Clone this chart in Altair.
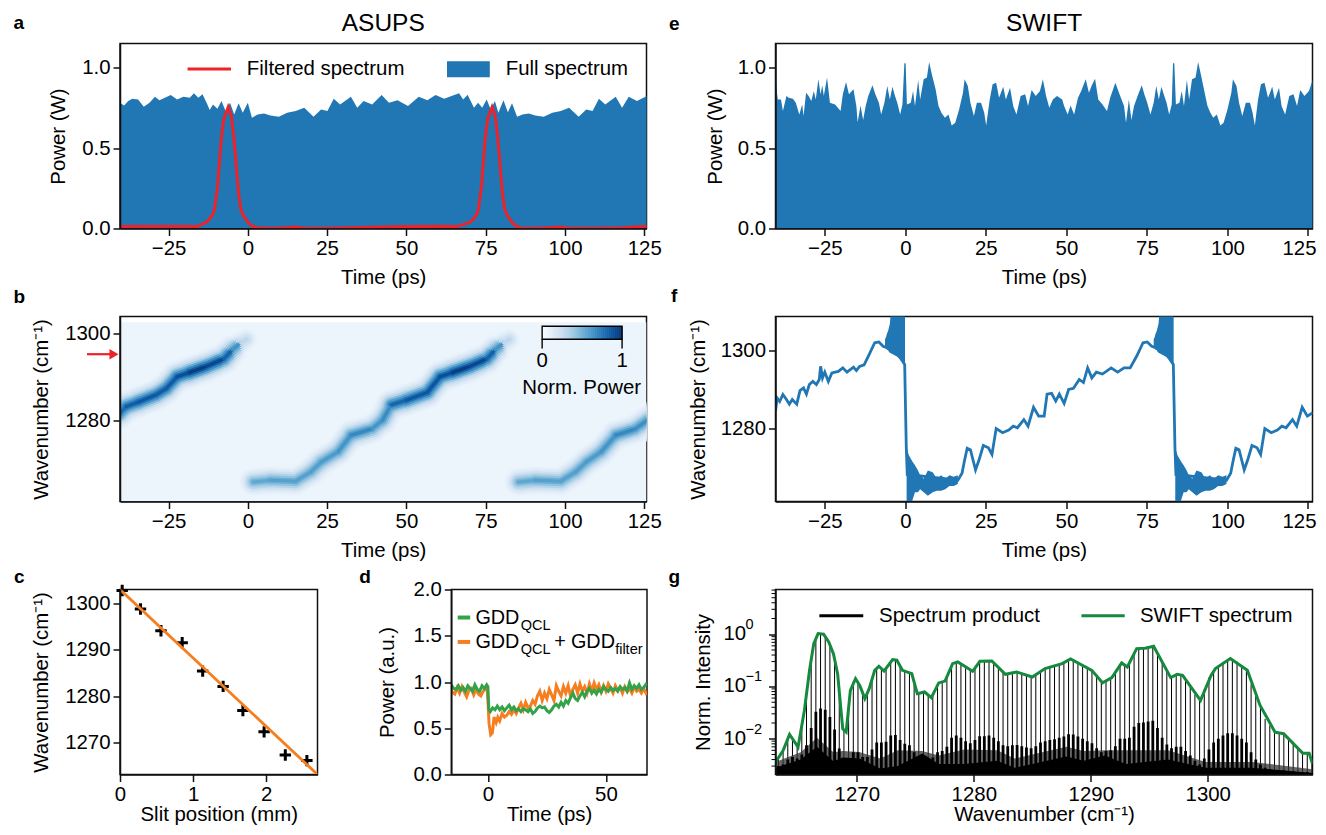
import altair as alt
import pandas as pd

FONT = "Liberation Sans"
BLUE = "#2077b4"
RED = "#ee2229"
ORANGE = "#f57f20"
GREEN = "#33a249"
DGREEN = "#15893e"

# ---- panel a
a_t = [-40.4,-39.0,-37.7,-36.4,-34.6,-32.8,-31.0,-29.3,-27.9,-26.3,-24.3,-22.3,-20.3,-18.3,-17.0,-15.6,-14.3,-13.0,-12.0,-11.0,-9.6,-8.3,-7.0,-5.6,-4.3,-2.9,-1.6,0,1.3,3.1,5.1,7.1,9.8,12.4,15.1,17.8,20.7,23.1,25.1,27.1,29.1,32.5,34.5,36.5,39.2,42.2,44.5,47.2,50.5,53.9,56.6,59.2,61.9,66.6,67.9,69.3,71.3,72.6,73.9,75.3,76.6,77.9,79.0,80.6,82.0,83.3,84.9,86.6,88.6,90.6,93.3,96.0,98.7,101.3,104.3,106.7,108.7,110.7,112.7,116.0,118.0,120.1,122.7,124.1,126.5]
a_p = [.782,.765,.792,.807,.802,.757,.782,.819,.798,.811,.83,.802,.819,.813,.84,.813,.834,.782,.736,.771,.744,.792,.73,.782,.709,.778,.719,.782,.688,.709,.715,.703,.694,.719,.73,.751,.694,.74,.73,.807,.771,.819,.751,.792,.771,.83,.782,.798,.761,.819,.798,.83,.807,.84,.802,.832,.751,.782,.751,.802,.74,.792,.719,.798,.723,.778,.694,.709,.715,.703,.694,.719,.73,.751,.694,.74,.73,.807,.771,.819,.751,.819,.792,.807,.83]
red_t = [-40.4,-25,-20,-16,-13,-12,-11,-10.5,-9.6,-9,-8.4,-7.6,-6.2,-5.2,-4.5,-3.9,-3.3,-2.8,-2.2,-1.4,0,1,3,8,12,15,18,25,35,50,60,66,70.2,71.2,72.2,72.7,73.6,74.2,74.8,75.6,77,78,78.7,79.3,79.9,80.4,81,81.8,83.2,84.2,86,91,95,98.5,101,110,118,125,126.2]
red_p = [.012,.014,.014,.012,.04,.06,.09,.12,.25,.4,.55,.68,.755,.7,.58,.45,.3,.2,.12,.08,.04,.02,.003,.001,.005,.009,.002,.001,.006,.012,.014,.012,.04,.06,.09,.12,.25,.4,.55,.68,.755,.7,.58,.45,.3,.2,.12,.08,.04,.02,.003,.001,.005,.01,.002,.001,.004,.012,.013]

# ---- panel e
e_t = [-40.3,-39.6,-38.6,-38.0,-36.9,-36.2,-34.9,-34.0,-32.9,-32.0,-31.6,-30.8,-30.0,-29.2,-28.4,-27.8,-27.0,-26.3,-25.8,-25.3,-24.3,-23.4,-21.8,-20.1,-19.4,-18.4,-17.5,-16.1,-15.2,-14.8,-13.9,-13.1,-12.3,-11.5,-10.2,-9.3,-8.2,-7.5,-6.5,-5.6,-4.8,-4.0,-3.2,-2.5,-1.6,-0.9,-0.3,0.1,0.5,1.7,2.4,3.0,4.0,4.6,5.7,6.7,7.4,8.3,9.4,10.3,11.2,12.3,13.4,14.4,15.5,16.7,17.9,18.4,19.4,20.2,21.3,22.2,23.5,24.5,25.1,26.2,27.1,28.2,29.1,30.4,31.2,32.5,33.5,34.5,35.8,37.2,38.1,39.2,40.5,41.8,42.7,43.7,44.7,45.8,47.1,48.7,49.3,50.4,51.3,52.4,53.6,54.6,56.0,57.0,57.9,58.9,59.9,61.2,62.6,63.6,65.2,66.5,67.9,68.5,69.4,70.2,71.0,72.1,73.4,74.2,75.1,76.1,77.1,77.9,78.7,79.5,80.4,81.1,81.9,82.7,83.1,83.5,84.0,85.1,85.8,86.5,87.4,88.1,89.0,90.1,90.9,91.8,92.7,93.8,94.7,95.6,96.7,97.8,98.8,100.0,101.2,101.7,102.8,103.6,104.6,105.7,107.0,107.8,108.5,109.5,110.4,111.5,112.6,113.9,114.7,116.0,116.8,117.9,119.2,120.5,121.6,122.6,123.9,125.3,126.5]
e_p = [.927,.802,.802,.73,.823,.813,.807,.782,.709,.771,.699,.844,.823,.792,.854,.802,.927,.834,.89,.823,.938,.782,.771,.73,.834,.911,.834,.865,.761,.661,.765,.674,.761,.823,.89,.834,.782,.709,.782,.886,.802,.881,.823,.782,.709,.771,1.027,1.027,.771,.782,.854,.761,.923,.802,.927,.938,1.035,.952,.865,.761,.719,.688,.709,.64,.657,.74,.844,.927,.886,.782,.699,.782,.782,.719,.64,.802,.896,.906,.813,.881,.802,.875,.761,.709,.823,.834,.761,.861,.823,.854,.927,.823,.751,.802,.823,.802,.761,.709,.765,.709,.813,.854,.927,.844,.89,.931,.802,.771,.73,.813,.906,.834,.761,.657,.802,.674,.761,.823,.89,.834,.782,.709,.782,.886,.802,.881,.823,.782,.709,.771,1.027,1.027,.771,.782,.854,.761,.923,.802,.927,.938,1.035,.952,.865,.761,.719,.688,.709,.64,.657,.74,.844,.927,.886,.782,.699,.782,.782,.719,.64,.802,.896,.906,.813,.881,.802,.875,.761,.709,.823,.834,.761,.861,.823,.854,.927]

# ---- panel b: ridge tracks (time, wavenumber, relative power)
r1_t = [-40.4,-38.4,-34.4,-29,-25.7,-22.3,-18.3,-13,-7.6,-4.9,-2.3,-0.5]
r1_w = [1281.5,1283.1,1284.2,1285.8,1287.3,1290,1291,1292.4,1294.1,1296.2,1297.8,1298.6]
r1_a = [.72,.8,.85,.85,.82,.86,.9,1,.82,.8,.45,.1]
r2_t = [1.7,7.1,15.1,19.8,23.1,28.5,32.5,39.2,42.5,45.2,50,56.6,60.6,64.6,70,75.3,78,80.6,82.4]
r2_w = [1265.7,1266.1,1265.9,1268,1270.3,1272.7,1276.5,1278,1280,1283.5,1284.6,1286.4,1290,1291,1292.4,1294.1,1296.2,1297.8,1298.6]
r2_a = [.52,.55,.58,.55,.6,.58,.65,.68,.55,.75,.85,.85,.86,.9,1,.82,.8,.45,.1]
r3_t = [85.3,90.6,98.7,103.3,106.7,111.4,116,122,126.5]
r3_w = [1265.7,1266.1,1265.9,1268,1270.3,1272.7,1276.5,1277.9,1280.2]
r3_a = [.52,.55,.58,.55,.6,.58,.65,.68,.6]
bar_v = [i / 40 for i in range(41)]

# ---- panel f
f_t = [-40.3,-39.8,-39.0,-38.0,-36.9,-36.0,-35.1,-33.7,-32.7,-31.6,-30.7,-29.8,-28.7,-27.6,-26.7,-26.3,-25.7,-25.0,-23.9,-22.8,-20.8,-19.4,-18.1,-16.1,-15.2,-14.2,-12.8,-11.5,-9.5,-8.2,-6.9,-3,-0.2,0.3,0.6,16.3,17.6,18.3,19.2,20.2,21.8,22.9,24.2,25.8,26.9,28.2,30.2,32.1,33.5,34.8,36.8,38.1,39.8,41.4,43.1,44,45.4,46.7,47.8,49.3,50.7,52.2,54,55.3,56.6,57.9,59.3,61.2,63.9,65.9,67.9,69.8,71.8,73.8,75.1,76.5,80.4,83.2,83.7,84.0,99.7,101.0,101.7,102.6,103.6,105.2,106.3,107.6,109.2,110.3,111.6,113.6,115.5,116.9,118.2,120.2,121.5,123.2,124.8,126.5]
f_w = [1284.3,1287.8,1286.9,1288.7,1287.4,1286.2,1287.4,1286.2,1289.7,1290.4,1288.8,1291.3,1292.1,1291.3,1292.6,1296,1293,1294.5,1292.1,1294.3,1294.7,1295.6,1294.5,1295.8,1294.9,1296,1296.4,1298.6,1302.1,1302.3,1301.2,1300,1296.5,1275,1268,1266.5,1268.3,1271.3,1274.8,1274.4,1269.2,1271.8,1275.5,1274.9,1273.2,1279.9,1278.8,1279.5,1280.5,1280.1,1282.2,1280.5,1285.4,1283.1,1283.1,1288.8,1289,1287,1288.8,1286.4,1290,1290.3,1292.6,1291.8,1295.6,1293,1294.5,1294,1295.6,1294.5,1295.6,1295.6,1298.6,1302.1,1302.3,1301.2,1300,1296.5,1275,1268,1266.5,1268.3,1271.3,1274.8,1274.4,1269.2,1271.8,1275.5,1274.9,1273.2,1279.9,1278.8,1279.5,1280.5,1280.1,1282.2,1280.5,1285.4,1283.1,1284]
# rapid-oscillation envelopes of panel f
band_t = [-6.3,-6.0,-5.7,-5.4,-5.1,-4.8,-4.5,-3.6,-2.5,-1.2,-0.1,0.4,1.1,1.7,2.3,3.0,3.9,4.6,5.7,7.0,8.5,9.8,11.1,12.4,13.7,15,16.3]
band_up = [1303,1303.5,1304.5,1305,1306,1307,1310,1310,1310,1310,1310,1274.8,1273,1272.1,1271.2,1270.4,1269.1,1267.8,1266.9,1269,1268.6,1266.9,1267.8,1266.9,1267.8,1267.4,1267.8]
band_lo = [1301,1300.6,1300.3,1300.2,1299.8,1299.5,1299.4,1299,1298.5,1297.5,1296.5,1260,1260,1260,1261.6,1263.4,1263.4,1264.2,1263.4,1262.5,1263.4,1263.8,1263.8,1264.2,1265,1265,1265.5]
band_group = [0]*11 + [1]*16
band2_t = [77.1,77.4,77.7,78.0,78.3,78.6,78.9,79.8,80.9,82.2,83.3,83.8,84.5,85.1,85.7,86.4,87.3,88.0,89.1,90.4,91.9,93.2,94.5,95.8,97.1,98.4,99.7]

# ---- panel c
c_x = [.03,.28,.56,.85,1.13,1.41,1.68,1.97,2.26,2.555]
c_y = [1302.8,1298.8,1294.1,1291.5,1285.4,1282.1,1276.9,1272.3,1267.3,1266.1]
fit_x = [0,2.7]
fit_y = [1303,1263.1]

# ---- panel d
g_t = [-15.5,-14.5,-13.5,-12.5,-11.5,-10.5,-9.5,-8.5,-7.5,-6.5,-5.5,-4.5,-3.5,-2.5,-1.5,-.5,0,.4,1,2,3,4,5,6,7,8,9,10,11,12,13,14,15,16,17,18,19,20,21,22,23,24,25,26,27,28,29,30,31,32,33,34,35,36,37,38,39,40,41,42,43,44,45,46,47,48,49,50,51,52,53,54,55,56,57,58,59,60,61,62,63,64,65,66,67.4]
g_p = [.97,.93,.92,.96,.91,.94,.90,.96,.93,.90,.97,.92,.90,.96,.93,.97,.95,.70,.68,.72,.70,.74,.70,.73,.69,.72,.75,.70,.73,.69,.71,.68,.71,.70,.68,.71,.66,.68,.72,.74,.72,.73,.69,.67,.70,.74,.76,.73,.78,.74,.80,.77,.83,.88,.82,.80,.85,.89,.84,.90,.93,.88,.91,.87,.92,.89,.95,.92,.90,.94,.91,.93,.90,.95,.92,.94,.90,.99,.92,.96,.93,.97,.92,.94,.99]
o_t = [-15.5,-14,-13,-12,-11,-10,-9,-8,-7,-6,-5,-4,-3,-2,-1,-.3,.1,.5,1.2,1.9,2.6,3.5,4.2,5,6,7,8,9,10,11,12,13,14,15,16,17,18,19,20,21,22,23,24,25,26,27,28,29,30,31,32,33,34,35,36,37,38,39,40,41,42,43,44,45,46,47,48,49,50,51,52,53,54,55,56,57,58,59,60,61,62,63,64,65,66,67.4]
o_p = [.90,.87,.94,.88,.95,.89,.84,.91,.93,.86,.92,.87,.85,.90,.93,.92,.75,.55,.43,.45,.62,.56,.62,.58,.66,.62,.64,.68,.65,.70,.66,.72,.77,.70,.78,.72,.74,.80,.76,.85,.90,.80,.88,.82,.92,.86,.80,.96,.90,.85,.95,.88,.96,.85,.92,.97,.88,.98,.90,.95,.88,.98,.90,.99,.92,.97,.89,.96,.90,.98,.93,.88,.96,.91,.94,.88,.95,.90,.93,.88,.95,.90,.92,.88,.93,.86]

# ---- panel g
s_w = [1263.05,1263.7,1264.25,1264.98,1265.52,1265.96,1266.32,1266.69,1267.16,1267.6,1268.0,1268.36,1268.62,1268.8,1269.09,1269.45,1269.89,1270.25,1270.69,1271.06,1271.53,1271.89,1272.33,1273.06,1273.42,1273.9,1274.7,1275.17,1275.79,1276.37,1277.0,1277.54,1278.19,1278.63,1279.9,1280.52,1281.54,1282.7,1283.65,1285.0,1286.09,1287.55,1288.27,1290.09,1291.0,1291.8,1292.64,1293.12,1293.92,1294.64,1295.37,1296.83,1297.38,1297.85,1299.38,1300.29,1300.65,1301.93,1303.38,1304.47,1305.75,1306.48,1308.11,1308.66,1308.95]
s_i = [.00357,.00597,.0121,.00692,.0349,.204,.662,1.03,1.0,.713,.426,.176,.0405,.0155,.0134,.0845,.141,.105,.0585,.0908,.204,.244,.198,.327,.318,.204,.176,.0729,.0785,.0611,.117,.127,.274,.295,.195,.303,.308,.171,.19,.152,.22,.274,.337,.204,.118,.148,.282,.237,.531,.539,.589,.148,.171,.164,.0543,.164,.22,.342,.204,.0435,.0134,.0125,.0053,.0053,.00332]
comb_top = [.0042,.006,.0105,.0095,.0072,.018,.09,.35,.85,1.0,.95,.65,.36,.1,.0145,.05,.125,.12,.075,.073,.15,.23,.22,.23,.31,.325,.24,.195,.18,.11,.074,.078,.066,.07,.11,.122,.16,.26,.29,.26,.225,.2,.235,.3,.305,.308,.28,.225,.185,.172,.182,.19,.175,.16,.153,.175,.205,.22,.235,.25,.265,.285,.325,.32,.285,.255,.225,.204,.155,.122,.13,.145,.18,.26,.26,.28,.45,.53,.535,.56,.585,.42,.28,.19,.15,.168,.166,.13,.1,.07,.056,.09,.15,.205,.25,.295,.335,.335,.3,.25,.21,.11,.065,.042,.024,.018,.0135,.0132,.0125,.0105,.0085,.0065,.0053,.0053,.0035]
comb_prod = [.0030,.0032,.0040,.0045,.0042,.0050,.0075,.016,.033,.038,.036,.026,.015,.0065,.0038,.0042,.0055,.0055,.0045,.0045,.0062,.0085,.0085,.0088,.0115,.0118,.0095,.0080,.0075,.0055,.0042,.0045,.0042,.0044,.0055,.0058,.0070,.0105,.0115,.0105,.0090,.0082,.0095,.0112,.0112,.0115,.0105,.0090,.0075,.0072,.0075,.0076,.0072,.0068,.0066,.0072,.0085,.0090,.0095,.0098,.0105,.0110,.0122,.0120,.0110,.0100,.0090,.0082,.0066,.0055,.0058,.0060,.0072,.0100,.0100,.0105,.0170,.0200,.0205,.0215,.0220,.0160,.0105,.0078,.0066,.0070,.0070,.0058,.0048,.0038,.0032,.0042,.0062,.0085,.0100,.0115,.0128,.0128,.0115,.0100,.0085,.0055,.0040,.0032,.0028,.0026,.0025,.0025,.0025,.0024,.0024,.0023,.0023,.0023,.0022]
comb_w = [round(1263.3 + 0.4 * i, 1) for i in range(len(comb_top))]
floor_w = [1263.05,1265.2,1266.6,1268.0,1268.8,1270.2,1272.0,1273.5,1275.6,1277.0,1279.2,1282.0,1283.5,1285.0,1287.9,1289.4,1291.2,1293.0,1296.6,1299.8,1303.8,1308.95]
floor_i = [.0028,.0040,.0070,.0037,.0044,.0042,.0027,.0030,.0052,.0033,.0033,.0038,.0028,.0033,.0046,.0038,.0048,.0033,.0040,.0028,.0028,.0022]
gray_i = [.0036,.0055,.0105,.0055,.0058,.0056,.0042,.0060,.0058,.0048,.0062,.0060,.0042,.0050,.0070,.0058,.0060,.0060,.0060,.0036,.0036,.0026]
G_BASE = 0.00207
minor_ticks = [.003,.004,.005,.006,.007,.008,.009,.02,.03,.04,.05,.06,.07,.08,.09,.2,.3,.4,.5,.6,.7,.8,.9,2,3,4,5,6,7]
decade_v = [.01, .1, 1]
decade_sup = ["−2", "−1", "0"]

TIME_TICKS = [-25, 0, 25, 50, 75, 100, 125]
TDOM_L = [-40.3, 125.7]
TDOM_R = [-40.3, 126.4]
W_L, W_R, H = 526.5, 537, 185


def make_axis(ticks, title, fmt="d", **kw):
    return alt.Axis(values=ticks, title=title, format=fmt, zindex=1, labelOverlap=False, **kw)


def xenc(dom, ticks, title, fmt="d", tp=9, **kw):
    def enc(field):
        return alt.X(field, type="quantitative", scale=alt.Scale(domain=dom, nice=False, zero=False),
                     axis=make_axis(ticks, title, fmt, titlePadding=tp, **kw))
    return enc


def yenc(dom, ticks, title, fmt="d", tp=13):
    def enc(field):
        return alt.Y(field, type="quantitative", scale=alt.Scale(domain=dom, nice=False, zero=False),
                     axis=make_axis(ticks, title, fmt, titlePadding=tp), stack=None)
    return enc


def letter(ch, dx, dy):
    return alt.Chart(pd.DataFrame({"s": [ch]})).mark_text(
        font=FONT, fontSize=19, fontWeight="bold", align="left", baseline="middle", clip=False
    ).encode(x=alt.value(dx), y=alt.value(dy), text="s:N")


def heading(s, w):
    return alt.Chart(pd.DataFrame({"s": [s]})).mark_text(
        font=FONT, fontSize=24.5, align="center", baseline="middle"
    ).encode(x=alt.value(w / 2), y=alt.value(-20), text="s:N")


def label(xs, ys, texts, X, Y, size=20.4, align="left"):
    df = pd.DataFrame({"x": xs, "y": ys, "s": texts})
    return alt.Chart(df).mark_text(font=FONT, fontSize=size, align=align, baseline="middle").encode(
        x=X("x"), y=Y("y"), text="s:N"
    )


# ---------- a
PDOM = [0, 1.15]
Xa = xenc(TDOM_L, TIME_TICKS, "Time (ps)")
Ya = yenc(PDOM, [0, .5, 1], "Power (W)", ".1f")
a_df = pd.DataFrame({"t": a_t, "p": a_p})
red_df = pd.DataFrame({"t": red_t, "p": red_p})
panel_a = alt.layer(
    alt.Chart(a_df).mark_area(color=BLUE, clip=True).encode(x=Xa("t"), y=Ya("p")),
    alt.Chart(red_df).mark_line(color=RED, strokeWidth=3, clip=True).encode(x=Xa("t"), y=Ya("p")),
    alt.Chart(pd.DataFrame({"x": [-19], "x2": [-5.3], "y": [.992]})).mark_rule(color=RED, strokeWidth=3).encode(
        x=Xa("x"), x2="x2:Q", y=Ya("y")),
    alt.Chart(pd.DataFrame({"x": [62.8], "x2": [76.3], "y": [.94], "y2": [1.04]})).mark_rect(color=BLUE).encode(
        x=Xa("x"), x2="x2:Q", y=Ya("y"), y2="y2:Q"),
    label([-0.3, 81.3], [.99, .99], ["Filtered spectrum", "Full spectrum"], Xa, Ya),
    letter("a", -106.5, -21),
    heading("ASUPS", W_L),
).properties(width=W_L, height=H)

# ---------- e
# the last tick label is nudged inwards so that it stays on the page
Xe = xenc(TDOM_R, TIME_TICKS, "Time (ps)",
          labelOffset={"condition": {"test": "datum.value == 125", "value": -9}, "value": 0})
Ye = yenc(PDOM, [0, .5, 1], "Power (W)", ".1f", tp=11.5)
e_df = pd.DataFrame({"t": e_t, "p": e_p})
panel_e = alt.layer(
    alt.Chart(e_df).mark_area(color=BLUE, clip=True).encode(x=Xe("t"), y=Ye("p")),
    letter("e", -106.5, -20),
    heading("SWIFT", W_R),
).properties(width=W_R, height=H)

# ---------- b
WDOM_B = [1261.2, 1303.9]
Xb = Xa
Yb = yenc(WDOM_B, [1280, 1300], "Wavenumber (cm⁻¹)")
blues = alt.Scale(domain=[0, .125, .25, .375, .5, .625, .75, .875, 1],
                  range=["#f7fbff", "#deebf7", "#c6dbef", "#9ecae1", "#6baed6", "#4292c6", "#2171b5", "#08519c", "#08306b"])
segs = []
for rt, rw, ra in [(r1_t, r1_w, r1_a), (r2_t, r2_w, r2_a), (r3_t, r3_w, r3_a)]:
    for i in range(len(rt) - 1):
        segs.append({"t": rt[i], "t2": rt[i + 1], "w": rw[i], "w2": rw[i + 1], "a": (ra[i] + ra[i + 1]) / 2})
seg_df = pd.DataFrame(segs)
bg_df = pd.DataFrame({"t": [-40.3], "t2": [125.7], "w": [1261.2], "w2": [1302.6], "v": [0.05]})
ridge_layers = []
for width, strength in [(34, .07), (30, .11), (26, .17), (22, .25), (18, .38), (14, .55), (10, .72), (6, .88), (3, 1.0)]:
    ridge_layers.append(
        alt.Chart(seg_df).transform_calculate(v=f"max(0.05, datum.a * {strength})").mark_rule(
            strokeWidth=width, strokeCap="round", clip=True
        ).encode(
            x=Xb("t"), x2="t2:Q", y=Yb("w"), y2="w2:Q",
            color=alt.Color("v:Q", scale=blues, legend=None),
        )
    )
# colour bar drawn as a row of cells, in the panel's own data coordinates
BAR_L, BAR_R = 92.8, 118.0
bar_df = pd.DataFrame({"v": bar_v})
bar_df["t"] = BAR_L + (BAR_R - BAR_L) * bar_df["v"]
bar_df["t2"] = bar_df["t"] + (BAR_R - BAR_L) / 40 + 0.1
bar_df = bar_df[bar_df["v"] < 1]
BAR_TOP, BAR_BOT = 1301.66, 1298.66
panel_b = alt.layer(
    alt.Chart(bg_df).mark_rect(clip=True).encode(
        x=Xb("t"), x2="t2:Q", y=Yb("w"), y2="w2:Q",
        color=alt.Color("v:Q", scale=blues, legend=None),
    ),
    *ridge_layers,
    alt.Chart(pd.DataFrame({"x": [-50.7], "x2": [-43], "y": [1295.2]})).mark_rule(color=RED, strokeWidth=2.2).encode(
        x=Xb("x"), x2="x2:Q", y=Yb("y")),
    alt.Chart(pd.DataFrame({"x": [-42.2], "y": [1295.2]})).mark_point(
        shape="triangle-right", filled=True, color=RED, size=110, opacity=1).encode(x=Xb("x"), y=Yb("y")),
    alt.Chart(bar_df).transform_calculate(a=f"{BAR_TOP}", b=f"{BAR_BOT}").mark_rect().encode(
        x=Xb("t"), x2="t2:Q", y=Yb("a"), y2="b:Q",
        color=alt.Color("v:Q", scale=blues, legend=None)),
    alt.Chart(pd.DataFrame({"x": [BAR_L], "x2": [BAR_R], "y": [BAR_BOT], "y2": [BAR_TOP]})).mark_rect(
        fillOpacity=0, stroke="black", strokeWidth=1.4).encode(x=Xb("x"), x2="x2:Q", y=Yb("y"), y2="y2:Q"),
    alt.Chart(pd.DataFrame({"x": [BAR_L, BAR_R], "y": [BAR_BOT] * 2, "y2": [1296.5] * 2})).mark_rule(
        color="black", strokeWidth=1.4).encode(x=Xb("x"), y=Yb("y"), y2="y2:Q"),
    label([BAR_L, BAR_R], [1293.7, 1293.7], ["0", "1"], Xb, Yb, align="center"),
    label([86.5], [1287.4], ["Norm. Power"], Xb, Yb),
    letter("b", -106.5, -20),
).properties(width=W_L, height=H)

# ---------- f
WDOM_F = [1261.0, 1308.9]
Yf = yenc(WDOM_F, [1280, 1300], "Wavenumber (cm⁻¹)", tp=11.5)
f_df = pd.DataFrame({"t": f_t, "w": f_w})
b_df = pd.DataFrame({"t": band_t + band2_t, "up": band_up + band_up, "lo": band_lo + band_lo,
                     "g": band_group + [g + 2 for g in band_group]})
panel_f = alt.layer(
    alt.Chart(f_df).mark_line(color=BLUE, strokeWidth=2.8, clip=True).encode(x=Xe("t"), y=Yf("w")),
    alt.Chart(b_df).mark_area(color=BLUE, clip=True).encode(x=Xe("t"), y=Yf("up"), y2="lo:Q", detail="g:N"),
    letter("f", -104.5, -21),
).properties(width=W_R, height=H)

# ---------- c
Xc = xenc([0, 2.7], [0, 1, 2], "Slit position (mm)", tp=0)
Yc = yenc([1263.1, 1303], [1270, 1280, 1290, 1300], "Wavenumber (cm⁻¹)")
panel_c = alt.layer(
    alt.Chart(pd.DataFrame({"x": c_x, "y": c_y})).mark_point(
        shape="M-1,0H1M0,-1V1", color="black", size=130, strokeWidth=3, opacity=1).encode(x=Xc("x"), y=Yc("y")),
    alt.Chart(pd.DataFrame({"x": fit_x, "y": fit_y})).mark_line(color=ORANGE, strokeWidth=2.8, clip=True).encode(
        x=Xc("x"), y=Yc("y")),
    letter("c", -106, -12.6),
).properties(width=197.5, height=H)

# ---------- d
Xd = xenc([-15.5, 67.4], [0, 50], "Time (ps)", tp=0)
Yd = yenc([0, 2], [0, .5, 1, 1.5, 2], "Power (a.u.)", ".1f", tp=15)
panel_d = alt.layer(
    alt.Chart(pd.DataFrame({"t": o_t, "p": o_p})).mark_line(color=ORANGE, strokeWidth=3, clip=True).encode(x=Xd("t"), y=Yd("p")),
    alt.Chart(pd.DataFrame({"t": g_t, "p": g_p})).mark_line(color=GREEN, strokeWidth=3, clip=True).encode(x=Xd("t"), y=Yd("p")),
    alt.Chart(pd.DataFrame({"x": [-12.8], "x2": [-7.5], "y": [1.697]})).mark_rule(color=GREEN, strokeWidth=4).encode(
        x=Xd("x"), x2="x2:Q", y=Yd("y")),
    alt.Chart(pd.DataFrame({"x": [-12.8], "x2": [-7.5], "y": [1.433]})).mark_rule(color=ORANGE, strokeWidth=4).encode(
        x=Xd("x"), x2="x2:Q", y=Yd("y")),
    label([-5.3, -5.3, 28.1, 35.2], [1.697, 1.433, 1.433, 1.433], ["GDD", "GDD", "+", "GDD"], Xd, Yd, 19.8),
    label([13.9, 13.9, 53.9], [1.605, 1.345, 1.345], ["QCL", "QCL", "filter"], Xd, Yd, 14.5),
    letter("d", -92, -13),
).properties(width=195.7, height=H)

# ---------- g
Xg = xenc([1263.05, 1308.95], [1270, 1280, 1290, 1300], "Wavenumber (cm⁻¹)", tp=0)
G_LOG = alt.Scale(type="log", domain=[G_BASE, 7.18], nice=False)
comb_df = pd.DataFrame({"w": comb_w, "top": comb_top, "prod": comb_prod[:len(comb_top)], "base": G_BASE})
floor_df = pd.DataFrame({"w": floor_w, "i": floor_i, "j": gray_i, "base": G_BASE})
curve_df = pd.DataFrame({"w": s_w, "i": s_i})
g_axis = alt.Axis(values=decade_v, title="Norm. Intensity", zindex=1, labelOverlap=False,
                  labelExpr="''", titlePadding=52)


def Yg(field):
    return alt.Y(field, type="quantitative", scale=G_LOG, axis=g_axis)


decade_df = pd.DataFrame({"v": decade_v, "s": decade_sup, "b": ["10"] * 3})
panel_g = alt.layer(
    alt.Chart(comb_df).mark_rule(color="black", strokeWidth=1.0, clip=True).encode(x=Xg("w"), y=Yg("top"), y2="base:Q"),
    alt.Chart(floor_df).mark_area(color="#333333", opacity=0.75, clip=True).encode(x=Xg("w"), y=Yg("j"), y2="base:Q"),
    alt.Chart(comb_df).mark_rule(color="black", strokeWidth=2.8, clip=True).encode(x=Xg("w"), y=Yg("prod"), y2="base:Q"),
    alt.Chart(floor_df).mark_area(color="black", clip=True).encode(x=Xg("w"), y=Yg("i"), y2="base:Q"),
    alt.Chart(curve_df).mark_line(color=DGREEN, strokeWidth=3, clip=True).encode(x=Xg("w"), y=Yg("i")),
    alt.Chart(pd.DataFrame({"v": minor_ticks})).mark_rule(color="black", strokeWidth=1).encode(
        y=Yg("v"), x=alt.value(-4), x2=alt.value(0)),
    alt.Chart(decade_df).mark_text(font=FONT, fontSize=20.4, align="left", baseline="middle").encode(
        x=alt.value(-52), y=Yg("v"), text="b:N"),
    alt.Chart(decade_df).mark_text(font=FONT, fontSize=14.5, align="left", baseline="middle", dy=-9).encode(
        x=alt.value(-30), y=Yg("v"), text="s:N"),
    alt.Chart(pd.DataFrame({"x": [1266.8], "x2": [1270.55], "y": [2.25]})).mark_rule(color="black", strokeWidth=3).encode(
        x=Xg("x"), x2="x2:Q", y=Yg("y")),
    alt.Chart(pd.DataFrame({"x": [1289.2], "x2": [1292.9], "y": [2.25]})).mark_rule(color=DGREEN, strokeWidth=3).encode(
        x=Xg("x"), x2="x2:Q", y=Yg("y")),
    label([1271.9, 1294.2], [2.25, 2.25], ["Spectrum product", "SWIFT spectrum"], Xg, Yg),
    letter("g", -107, -12.6),
).properties(width=W_R, height=H)

row_cd = alt.hconcat(panel_c, panel_d, spacing=133.3, bounds="flush")
left = alt.vconcat(panel_a, panel_b, row_cd, spacing=88, bounds="flush")
right = alt.vconcat(panel_e, panel_f, panel_g, spacing=88, bounds="flush")
# with flush bounds the left column counts as zero width, so the spacing is its width plus the gap
chart = alt.hconcat(left, right, spacing=W_L + 129, bounds="flush").properties(
    padding={"left": 4, "top": 1.5, "right": 0, "bottom": -1.5}
).configure(
    font=FONT, background="white"
).configure_view(stroke="#111111", strokeWidth=1.5).configure_axis(
    grid=False, labelFont=FONT, titleFont=FONT, labelFontSize=20.4, titleFontSize=20.4,
    titleFontWeight="normal", labelColor="black", titleColor="black",
    domainColor="#111111", domainWidth=1.5, tickColor="#111111", tickWidth=1.5, tickSize=7,
    labelPadding=3, labelFlush=False,
)

chart.save("out.html", embed_options={"renderer": "svg", "actions": False})
